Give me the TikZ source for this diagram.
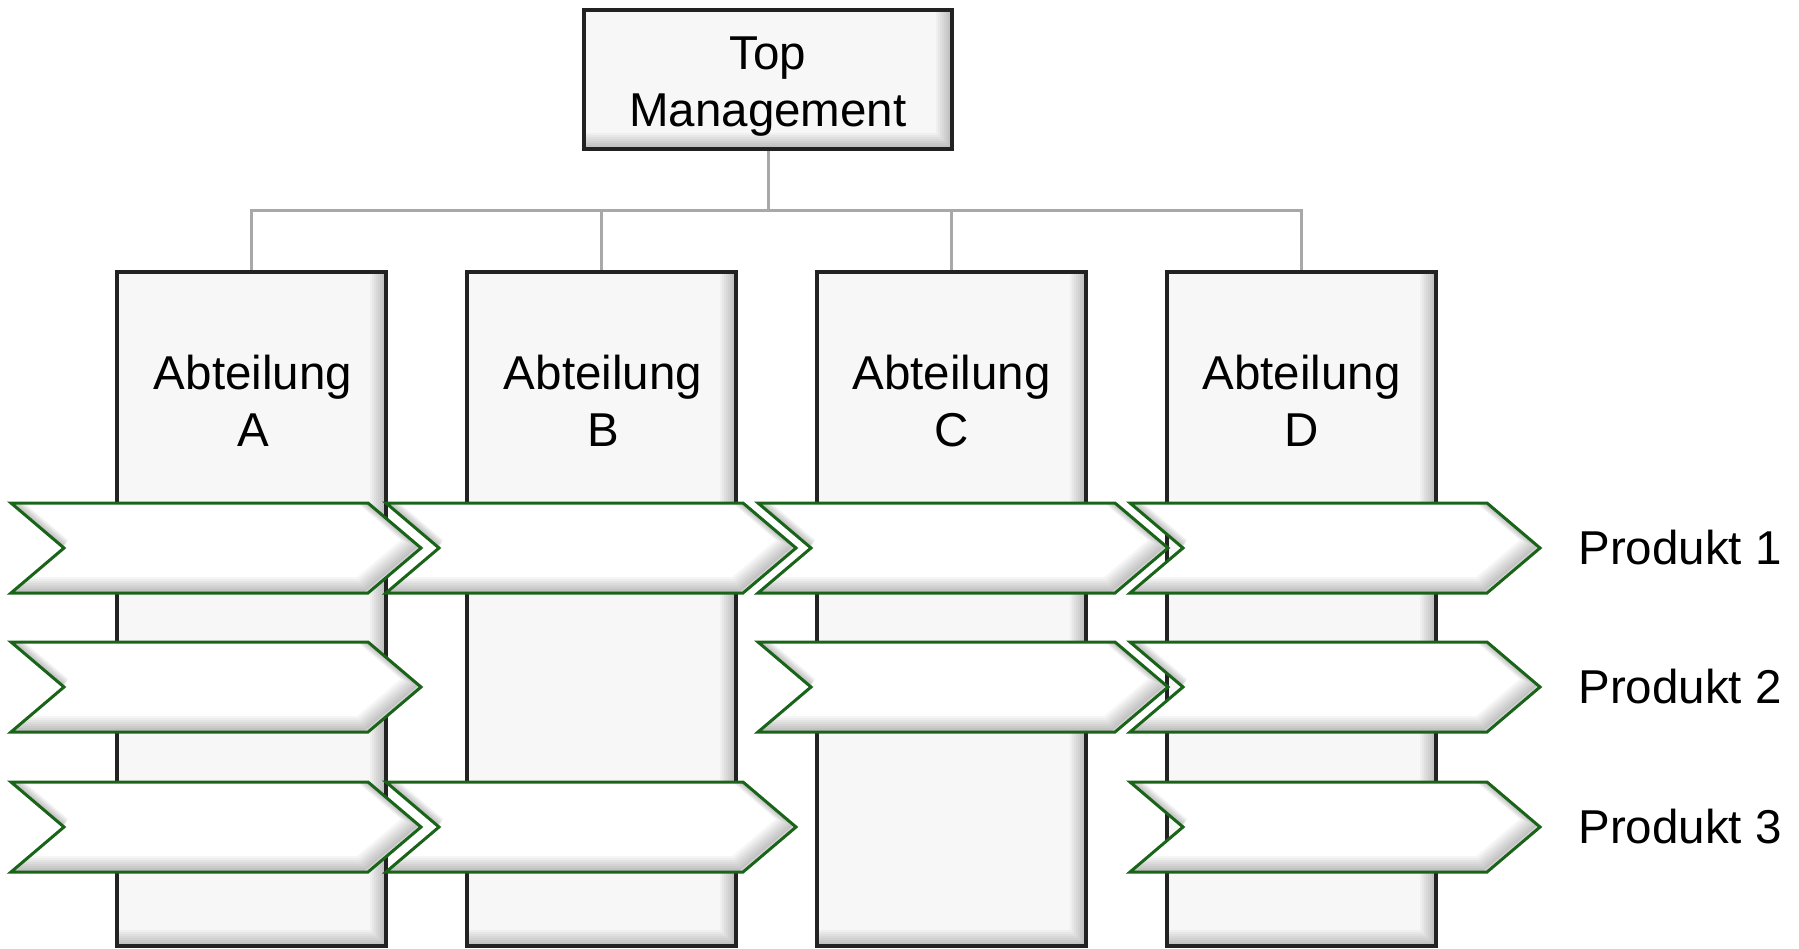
\documentclass[tikz,border=0pt]{standalone}
\usepackage{fontspec}
\setmainfont{Liberation Sans}
\pgfdeclarelayer{bg}
\pgfsetlayers{bg,main}
\definecolor{boxfill}{HTML}{F7F7F7}
\definecolor{boxline}{HTML}{222222}
\definecolor{connline}{HTML}{A8A8A8}
\definecolor{chevgreen}{RGB}{25,100,25}
\tikzset{
  lbl/.style={font=\fontsize{23.75}{28.5}\selectfont, inner sep=0pt, align=center},
  boxbase/.style={fill=boxfill, inner sep=0pt, outer sep=0pt},
  colbox/.style={boxbase, minimum width=134.5pt, minimum height=337pt},
  topbox/.style={boxbase, minimum width=184pt, minimum height=69.5pt},
  borderline/.style={draw=boxline, line width=2pt},
  conn/.style={draw=connline, line width=1.5pt},
  chevline/.style={draw=chevgreen, line width=1.5pt},
  chev/.pic={
    \fill[white] (0,-45) -- (357,-45) -- (410,0) -- (357,45) -- (0,45) -- (53,0) -- cycle;
    \begin{scope}
      \clip (0,-45) -- (357,-45) -- (410,0) -- (357,45) -- (0,45) -- (53,0) -- cycle;
      \foreach \w in {2,4,...,16} {
        \draw[line width=\w*0.5pt, black, opacity=0.035, shift={(-\w/2,-\w/2)}]
          (0,-45) -- (357,-45) -- (410,0) -- (357,45) -- (0,45) -- (53,0) -- cycle;
      }
    \end{scope}
    \draw[chevline] (0,-45) -- (357,-45) -- (410,0) -- (357,45) -- (0,45) -- (53,0) -- cycle;
  }
}
\newcommand\bevelbox[1]{%
  \begin{scope}
    \clip (#1.south west) rectangle (#1.north east);
    \foreach \w in {2,4,...,16} {
      \draw[line width=\w*0.5pt, black, opacity=0.03]
        ([shift={(-\w/2,-\w/2)}]#1.south west) rectangle ([shift={(-\w/2,-\w/2)}]#1.north east);
    }
  \end{scope}
  \draw[borderline] (#1.south west) rectangle (#1.north east);
}
\begin{document}
\begin{tikzpicture}[x=0.5pt,y=-0.5pt]
\useasboundingbox (0,0) rectangle (1799,948);

% boxes
\node[topbox] (top) at (768,79.5) {};
\bevelbox{top}
\node[colbox] (colA) at (251.5,609) {};
\bevelbox{colA}
\node[colbox] (colB) at (601.5,609) {};
\bevelbox{colB}
\node[colbox] (colC) at (951.5,609) {};
\bevelbox{colC}
\node[colbox] (colD) at (1301.5,609) {};
\bevelbox{colD}

% connectors
\begin{pgfonlayer}{bg}
\coordinate (bus) at (768,210);
\draw[conn] (top.south) -- (bus);
\draw[conn] (bus) -| (colA.north);
\draw[conn] (bus) -| (colB.north);
\draw[conn] (bus) -| (colC.north);
\draw[conn] (bus) -| (colD.north);
\end{pgfonlayer}

% labels
\node[lbl, anchor=north] (ttop) at (768,36) {Top\\Management};
\node[lbl, anchor=north] (tA) at (253,355) {Abteilung\\A};
\node[lbl, anchor=north] (tB) at (603,355) {Abteilung\\B};
\node[lbl, anchor=north] (tC) at (951.5,355) {Abteilung\\C};
\node[lbl, anchor=north] (tD) at (1301.5,355) {Abteilung\\D};

% chevrons row 1
\pic (r1a) at (11,548) {chev};
\pic (r1b) at (386,548) {chev};
\pic (r1c) at (758,548) {chev};
\pic (r1d) at (1130,548) {chev};
% row 2
\pic (r2a) at (11,687) {chev};
\pic (r2c) at (758,687) {chev};
\pic (r2d) at (1130,687) {chev};
% row 3
\pic (r3a) at (11,827) {chev};
\pic (r3b) at (386,827) {chev};
\pic (r3d) at (1130,827) {chev};

% product labels
\node[lbl, anchor=west] (p1) at (1578,548) {Produkt 1};
\node[lbl, anchor=west] (p2) at (1578,687) {Produkt 2};
\node[lbl, anchor=west] (p3) at (1578,827) {Produkt 3};
\end{tikzpicture}
\end{document}
